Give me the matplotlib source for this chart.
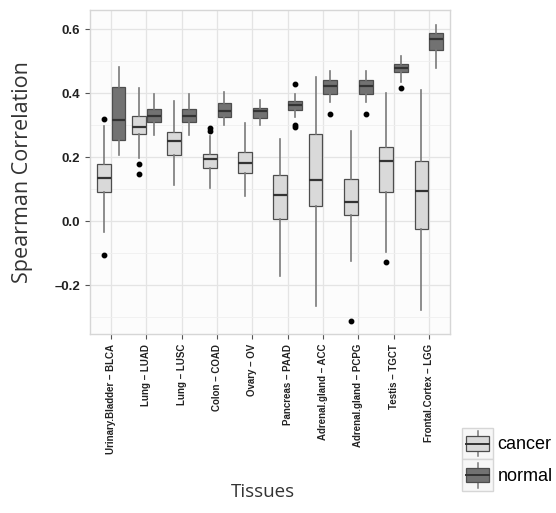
import matplotlib
matplotlib.use("Agg")
import matplotlib.pyplot as plt
from matplotlib.legend_handler import HandlerBase
from matplotlib.patches import Rectangle
from matplotlib.lines import Line2D

tissues = ['Urinary.Bladder – BLCA', 'Lung – LUAD', 'Lung – LUSC', 'Colon – COAD',
           'Ovary – OV', 'Pancreas – PAAD', 'Adrenal.gland – ACC',
           'Adrenal.gland – PCPG', 'Testis – TGCT', 'Frontal.Cortex – LGG']

# cancer box stats
cancer_whislo = [-0.034, 0.196, 0.112, 0.102, 0.080, -0.173, -0.266, -0.124, -0.096, -0.278]
cancer_q1 = [0.090, 0.272, 0.207, 0.166, 0.151, 0.007, 0.047, 0.020, 0.090, -0.024]
cancer_med = [0.134, 0.295, 0.251, 0.193, 0.183, 0.082, 0.127, 0.059, 0.188, 0.094]
cancer_q3 = [0.178, 0.329, 0.278, 0.211, 0.216, 0.145, 0.271, 0.131, 0.233, 0.189]
cancer_whishi = [0.297, 0.416, 0.374, 0.267, 0.308, 0.256, 0.451, 0.281, 0.399, 0.411]
cancer_out = [[0.320, -0.106], [0.179, 0.148], [], [0.290, 0.283], [], [], [], [-0.311],
              [-0.128], []]

# normal box stats
normal_whislo = [0.208, 0.269, 0.269, 0.302, 0.299, 0.326, 0.373, 0.373, 0.435, 0.479]
normal_q1 = [0.254, 0.309, 0.310, 0.327, 0.323, 0.348, 0.398, 0.398, 0.467, 0.534]
normal_med = [0.317, 0.329, 0.330, 0.344, 0.345, 0.362, 0.423, 0.423, 0.478, 0.568]
normal_q3 = [0.419, 0.349, 0.349, 0.370, 0.355, 0.375, 0.440, 0.440, 0.492, 0.588]
normal_whishi = [0.482, 0.396, 0.396, 0.405, 0.378, 0.397, 0.468, 0.468, 0.516, 0.612]
normal_out = [[], [], [], [], [], [0.430, 0.302, 0.295], [0.335], [0.335], [0.416], []]

groups = ['cancer', 'normal']
fills = {'cancer': '#d9d9d9', 'normal': '#727272'}
edge = '#4d4d4d'
whisk = '#7a7a7a'


def make_stats(lo, q1, med, q3, hi, out):
    return [dict(whislo=a, q1=b, med=c, q3=d, whishi=e, fliers=f)
            for a, b, c, d, e, f in zip(lo, q1, med, q3, hi, out)]


cancer_stats = make_stats(cancer_whislo, cancer_q1, cancer_med, cancer_q3, cancer_whishi, cancer_out)
normal_stats = make_stats(normal_whislo, normal_q1, normal_med, normal_q3, normal_whishi, normal_out)

fig = plt.figure(figsize=(5.56, 5.13), dpi=100)
ax = fig.add_axes([90 / 556, 1 - 334 / 513, 360 / 556, 324 / 513])
ax.set_facecolor('#fcfcfc')

pos = list(range(1, len(tissues) + 1))
for stats, off, g in [(cancer_stats, -0.21, 'cancer'), (normal_stats, 0.21, 'normal')]:
    ax.bxp(stats, positions=[p + off for p in pos], widths=0.39, patch_artist=True,
           showcaps=False,
           boxprops=dict(facecolor=fills[g], edgecolor=edge, linewidth=0.9),
           medianprops=dict(color='#333333', linewidth=1.6),
           whiskerprops=dict(color=whisk, linewidth=1.2),
           flierprops=dict(marker='o', markerfacecolor='black', markeredgecolor='black',
                           markersize=3.2))

ax.set_xlim(0.4, 10.6)
ax.set_ylim(-0.353, 0.66)
ax.set_xticks(pos)
ax.set_xticklabels(tissues, rotation=90, fontsize=7, fontweight='bold',
                   family='Liberation Sans', color='#222222')
ax.set_yticks([-0.2, 0.0, 0.2, 0.4, 0.6])
ax.set_yticklabels(['–0.2', '0.0', '0.2', '0.4', '0.6'], fontsize=9.5, fontweight='bold',
                   family='Liberation Sans', color='#222222')
ax.set_yticks([-0.3, -0.1, 0.1, 0.3, 0.5], minor=True)
ax.tick_params(axis='both', which='major', length=3.5, color='#555555', width=0.8)
ax.tick_params(axis='y', which='minor', length=0)
ax.grid(True, which='major', color='#e4e4e4', linewidth=0.9)
ax.grid(True, which='minor', axis='y', color='#efefef', linewidth=0.6)
ax.set_axisbelow(True)
for s in ax.spines.values():
    s.set_color('#d6d6d6')
    s.set_linewidth(1.0)

ax.set_ylabel('Spearman Correlation', fontsize=15.5, family='Open Sans', color='#333333',
              va='center')
ax.yaxis.set_label_coords((23 - 90) / 360, 0.5)
ax.set_xlabel('Tissues', fontsize=13.5, family='Open Sans', color='#333333', va='center')
ax.xaxis.set_label_coords(0.48, (334 - 492) / 324)


class BoxHandler(HandlerBase):
    def create_artists(self, legend, orig_handle, xdescent, ydescent, width, height,
                       fontsize, trans):
        fc = orig_handle.get_facecolor()
        x0, y0 = -xdescent, -ydescent
        cx = x0 + width / 2
        bg = Rectangle((x0, y0), width, height, facecolor='#f7f7f7', edgecolor='#d6d6d6',
                       lw=1.0, transform=trans)
        r = Rectangle((x0 + width * 0.12, y0 + height * 0.27), width * 0.76,
                      height * 0.46, facecolor=fc, edgecolor=edge, lw=0.9, transform=trans)
        m = Line2D([x0 + width * 0.12, x0 + width * 0.88], [y0 + height * 0.5] * 2,
                   color='#333333', lw=1.4, transform=trans)
        w1 = Line2D([cx, cx], [y0 + height * 0.73, y0 + height * 0.9],
                    color=whisk, lw=1.1, transform=trans)
        w2 = Line2D([cx, cx], [y0 + height * 0.1, y0 + height * 0.27],
                    color=whisk, lw=1.1, transform=trans)
        return [bg, w1, w2, r, m]


handles = [Rectangle((0, 0), 1, 1, facecolor=fills[g]) for g in groups]
leg = fig.legend(handles, groups, handler_map={Rectangle: BoxHandler()},
                 loc='upper left', bbox_to_anchor=(462 / 556, 1 - 428 / 513),
                 frameon=False, prop={'family': 'Liberation Sans', 'size': 13},
                 handlelength=1.72, handleheight=2.3, handletextpad=0.25, labelspacing=0.0,
                 borderpad=0, borderaxespad=0)

fig.savefig('out.png', dpi=100)
